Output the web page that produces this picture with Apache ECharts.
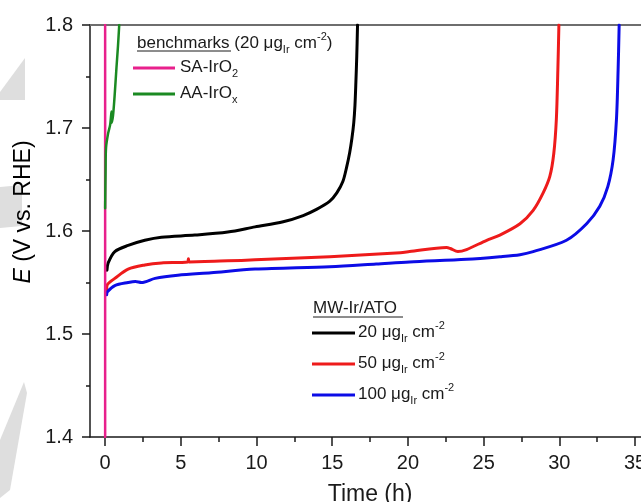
<!DOCTYPE html>
<html>
<head>
<meta charset="utf-8">
<script src="https://cdn.jsdelivr.net/npm/echarts@6/dist/echarts.min.js"></script>
<style>
  html, body { margin: 0; padding: 0; background: #fff; }
  #chart { width: 641px; height: 502px; }
</style>
</head>
<body>
<div id="chart"></div>
<script>
// Chronopotentiometry: electrode potential vs. time
const FONT = '"Liberation Sans", Arial, sans-serif';

// x tick labels (h)
const xTicks = [0, 5, 10, 15, 20, 25, 30, 35];
const xMinorTicks = [2.5, 7.5, 12.5, 17.5, 22.5, 27.5, 32.5];

// MW-Ir/ATO, 20 µg cm-2
const black20Time = [0.12, 0.2, 0.64, 1.52, 2.62, 3.72, 5.92, 8.1, 9.9, 11.76, 13.08, 13.96, 14.84, 15.3, 15.7, 15.95, 16.15, 16.3, 16.42, 16.5, 16.56, 16.62, 16.67];
const black20E    = [1.562, 1.569, 1.580, 1.586, 1.591, 1.594, 1.596, 1.599, 1.604, 1.609, 1.615, 1.621, 1.629, 1.637, 1.648, 1.662, 1.676, 1.690, 1.705, 1.722, 1.744, 1.770, 1.800];

// MW-Ir/ATO, 50 µg cm-2
const red50Time = [0.1, 0.15, 0.64, 1.52, 2.62, 3.72, 5.45, 5.5, 5.55, 8.1, 9.9, 14.84, 19.5, 20.1, 22.55, 22.8, 23.3, 23.87, 25.2, 26.07, 27.4, 28.27, 28.93, 29.37, 29.63, 29.8, 29.9, 29.97];
const red50E    = [1.543, 1.548, 1.554, 1.563, 1.567, 1.569, 1.570, 1.573, 1.570, 1.571, 1.572, 1.575, 1.579, 1.580, 1.584, 1.583, 1.580, 1.582, 1.591, 1.596, 1.607, 1.620, 1.637, 1.653, 1.675, 1.708, 1.756, 1.800];

// MW-Ir/ATO, 100 µg cm-2
const blue100Time = [0.1, 0.15, 0.64, 1.52, 2.0, 2.4, 3.3, 4.8, 7.0, 9.9, 14.84, 17.9, 20.1, 23.87, 26.07, 27.4, 28.27, 30.47, 31.8, 32.67, 33.2, 33.55, 33.77, 33.88, 33.95];
const blue100E    = [1.538, 1.541, 1.547, 1.550, 1.551, 1.550, 1.554, 1.557, 1.5595, 1.563, 1.5654, 1.568, 1.570, 1.5725, 1.575, 1.577, 1.580, 1.591, 1.607, 1.624, 1.643, 1.669, 1.708, 1.756, 1.800];

// Benchmarks, 20 µg cm-2
const saIrO2Time = [0, 0];
const saIrO2E    = [1.40, 1.80];
const aaIrOxTime = [0, 0.03, 0.06, 0.2, 0.33, 0.42, 0.43, 0.52, 0.62, 0.75, 0.85, 0.93];
const aaIrOxE    = [1.622, 1.660, 1.681, 1.695, 1.703, 1.716, 1.705, 1.712, 1.730, 1.759, 1.780, 1.800];

const pairs = (xs, ys) => xs.map((x, i) => [x, ys[i]]);

const lineSeries = (name, xs, ys, color, width) => ({
  name, type: 'line', data: pairs(xs, ys), showSymbol: false,
  smooth: 0.3,
  lineStyle: { color, width, cap: 'round', join: 'round' }, itemStyle: { color },
  xAxisIndex: 0, yAxisIndex: 0, animation: false, clip: true
});

const txtBase = { fontFamily: FONT, fontSize: 17, fill: '#1a1a1a' };
const richStyles = {
  n:   { fontFamily: FONT, fontSize: 17, color: '#1a1a1a', lineHeight: 24, verticalAlign: 'middle' },
  sub: { fontFamily: FONT, fontSize: 11, color: '#1a1a1a', lineHeight: 24, verticalAlign: 'bottom' },
  sup: { fontFamily: FONT, fontSize: 11, color: '#1a1a1a', lineHeight: 24, verticalAlign: 'top' },
  i:   { fontFamily: FONT, fontSize: 23, color: '#1a1a1a', fontStyle: 'italic' },
  t:   { fontFamily: FONT, fontSize: 23, color: '#1a1a1a' }
};
const label = (x, y, text) => ({
  type: 'text', x, y, z: 100,
  style: Object.assign({}, txtBase, { text, rich: richStyles, verticalAlign: 'middle', align: 'left' })
});
const swatch = (x1, x2, y, color) => ({
  type: 'line', z: 100, shape: { x1, y1: y, x2, y2: y },
  style: { stroke: color, lineWidth: 3 }
});
const underline = (x1, x2, y) => ({
  type: 'line', z: 100, shape: { x1, y1: y, x2, y2: y },
  style: { stroke: '#1a1a1a', lineWidth: 1 }
});

const option = {
  backgroundColor: '#fff',
  animation: false,
  grid: { left: 90, top: 25, right: -9.2, bottom: 65, containLabel: false, outerBoundsMode: 'none' },
  xAxis: [
    {
      type: 'value', min: -1, max: 36, position: 'bottom',
      name: 'Time (h)', nameLocation: 'middle', nameGap: 46,
      nameTextStyle: { fontFamily: FONT, fontSize: 23, color: '#1a1a1a' },
      axisLine: { show: true, onZero: false, lineStyle: { color: '#1a1a1a', width: 1.5 } },
      axisTick: { show: true, inside: false, length: 9, customValues: xTicks, lineStyle: { color: '#1a1a1a', width: 1.5 } },
      axisLabel: { show: true, customValues: xTicks, margin: 16, fontFamily: FONT, fontSize: 20, color: '#1a1a1a' },
      splitLine: { show: false }
    },
    {
      type: 'value', min: -1, max: 36, position: 'bottom',
      axisLine: { show: false, onZero: false },
      axisTick: { show: true, inside: false, length: 5, customValues: xMinorTicks, lineStyle: { color: '#1a1a1a', width: 1.5 } },
      axisLabel: { show: false },
      splitLine: { show: false }
    },
    {
      type: 'value', min: -1, max: 36, position: 'top',
      axisLine: { show: true, onZero: false, lineStyle: { color: '#6e6e6e', width: 2 } },
      axisTick: { show: false }, axisLabel: { show: false }, splitLine: { show: false }
    }
  ],
  yAxis: [{
    type: 'value', min: 1.4, max: 1.8, interval: 0.1, position: 'left',
    axisLine: { show: true, onZero: false, lineStyle: { color: '#1a1a1a', width: 1.5 } },
    axisTick: { show: true, inside: false, length: 8, lineStyle: { color: '#1a1a1a', width: 1.5 } },
    minorTick: { show: true, splitNumber: 2, length: 4, lineStyle: { color: '#1a1a1a', width: 1.5 } },
    axisLabel: { margin: 17, fontFamily: FONT, fontSize: 20, color: '#1a1a1a', formatter: v => v.toFixed(1) },
    splitLine: { show: false }
  }],
  series: [
    lineSeries('20 µg cm-2', black20Time, black20E, '#000000', 3),
    lineSeries('50 µg cm-2', red50Time, red50E, '#ee1b1b', 3),
    lineSeries('100 µg cm-2', blue100Time, blue100E, '#0c0ce6', 3),
    lineSeries('SA-IrO2', saIrO2Time, saIrO2E, '#e8208c', 2.5),
    lineSeries('AA-IrOx', aaIrOxTime, aaIrOxE, '#1b8a22', 2.5)
  ],
  graphic: { elements: [
    // faint background marks on the left margin
    { type: 'polygon', z: -10, shape: { points: [[25, 58], [25, 100], [0, 100], [0, 92]] }, style: { fill: '#dedede' } },
    { type: 'polygon', z: -10, shape: { points: [[0, 187], [22, 185], [22, 226], [0, 228]] }, style: { fill: '#dedede' } },
    { type: 'polygon', z: -10, shape: { points: [[24, 382], [27, 393], [10, 490], [0, 498], [0, 440]] }, style: { fill: '#dedede' } },

    // y axis title
    { type: 'text', x: 24, y: 212, rotation: Math.PI / 2, z: 100,
      style: { text: '{i|E}{t| (V vs. RHE)}', rich: richStyles, align: 'center', verticalAlign: 'middle' } },

    // benchmarks legend
    label(137, 43, '{n|benchmarks (20 μg}{sub|Ir}{n| cm}{sup|-2}{n|)}'),
    underline(137, 231, 51),
    swatch(133, 175, 68, '#e8208c'),
    label(180, 67, '{n|SA-IrO}{sub|2}'),
    swatch(133, 175, 94, '#1b8a22'),
    label(180, 93, '{n|AA-IrO}{sub|x}'),

    // MW-Ir/ATO legend
    label(313, 308, '{n|MW-Ir/ATO}'),
    underline(313, 403, 317),
    swatch(312, 355, 333, '#000000'),
    label(358, 332, '{n|20 μg}{sub|Ir}{n| cm}{sup|-2}'),
    swatch(312, 355, 364, '#ee1b1b'),
    label(358, 363, '{n|50 μg}{sub|Ir}{n| cm}{sup|-2}'),
    swatch(312, 355, 395, '#0c0ce6'),
    label(358, 394, '{n|100 μg}{sub|Ir}{n| cm}{sup|-2}')
  ] }
};

const chart = echarts.init(document.getElementById('chart'), null, { renderer: 'canvas' });
chart.setOption(option);
</script>
</body>
</html>
